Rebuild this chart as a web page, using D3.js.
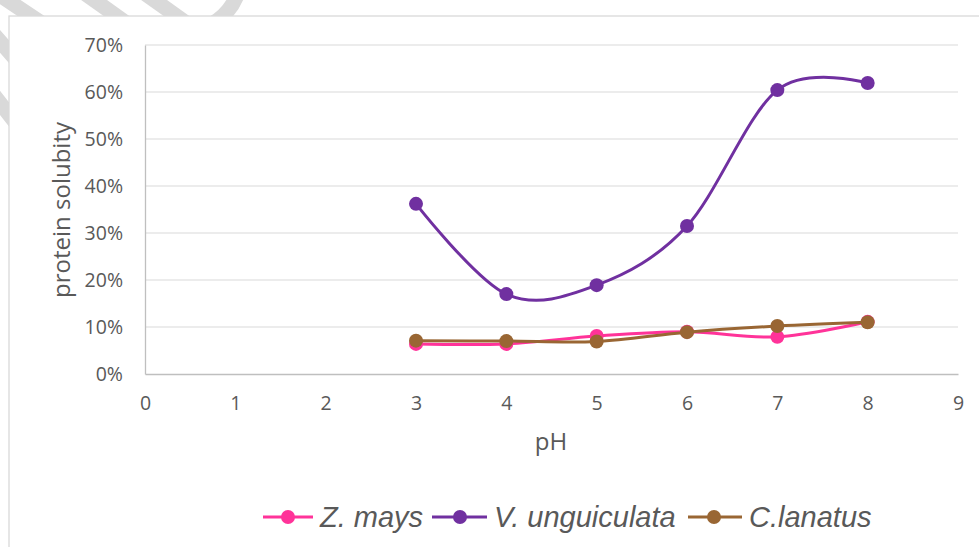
<!DOCTYPE html>
<html><head><meta charset="utf-8">
<script src="https://cdn.jsdelivr.net/npm/d3@7"></script>
<style>body{margin:0;background:#fff}svg{display:block}</style>
</head><body>
<svg id="c" width="979" height="547"></svg>
<script>
const phValues = [3, 4, 5, 6, 7, 8];
const zMays = [0.064, 0.064, 0.081, 0.090, 0.079, 0.111];
const vUnguiculata = [0.362, 0.170, 0.189, 0.315, 0.604, 0.619];
const cLanatus = [0.071, 0.070, 0.069, 0.089, 0.102, 0.110];
const seriesNames = ["Z. mays", "V. unguiculata", "C.lanatus"];
const seriesColors = ["#ff3399", "#7030a0", "#996633"];
const xTicks = [0,1,2,3,4,5,6,7,8,9];
const yTicks = [0,0.1,0.2,0.3,0.4,0.5,0.6,0.7];

const svg = d3.select("#c");
// watermark strokes
const wm = svg.append("g").attr("stroke","#d9d9d9").attr("stroke-width",15).attr("fill","none").attr("stroke-linecap","round");
[[[-5,-8],[40,22]],[[80,-10],[125,22]],[[140,-10],[185,22]],[[-10,30],[25,70]],[[-10,90],[25,135]]].forEach(l=>{
  wm.append("line").attr("x1",l[0][0]).attr("y1",l[0][1]).attr("x2",l[1][0]).attr("y2",l[1][1]);
});
wm.append("path").attr("d","M238,-8 Q232,12 212,24");
// chart area
svg.append("rect").attr("x",9).attr("y",16).attr("width",975).attr("height",540).attr("fill","#fff").attr("stroke","#d9d9d9").attr("stroke-width",1.3);

const x = d3.scaleLinear().domain([0,9]).range([145,958]);
const y = d3.scaleLinear().domain([0,0.7]).range([374,45]);

// gridlines
svg.append("g").selectAll("line").data(yTicks.slice(1)).join("line")
  .attr("x1",145).attr("x2",958).attr("y1",d=>y(d)).attr("y2",d=>y(d))
  .attr("stroke","#d9d9d9").attr("stroke-width",1.2);

const xa = svg.append("g").attr("transform","translate(0,374)")
  .call(d3.axisBottom(x).tickValues(xTicks).tickSize(0).tickPadding(22).tickFormat(d3.format("d")));
xa.select(".domain").attr("stroke","#bfbfbf").attr("stroke-width",1.3);
const ya = svg.append("g").attr("transform","translate(145,0)")
  .call(d3.axisLeft(y).tickValues(yTicks).tickSize(0).tickPadding(22).tickFormat(d3.format(".0%")));
ya.select(".domain").attr("stroke","#bfbfbf").attr("stroke-width",1.3);
svg.selectAll(".tick text").attr("font-family","Open Sans, sans-serif").attr("font-size",19.5).attr("fill","#595959");

svg.append("text").attr("x",551).attr("y",450).attr("text-anchor","middle")
  .attr("font-family","Open Sans, sans-serif").attr("font-size",24).attr("fill","#595959").text("pH");
svg.append("text").attr("transform","translate(70,210) rotate(-90)").attr("text-anchor","middle")
  .attr("font-family","Open Sans, sans-serif").attr("font-size",24).attr("fill","#595959").text("protein solubity");

const data = [zMays, vUnguiculata, cLanatus];
const line = d3.line().x((d,i)=>x(phValues[i])).y(d=>y(d)).curve(d3.curveCardinal.tension(0));
data.forEach((s,k)=>{
  const g = svg.append("g");
  g.append("path").attr("d",line(s)).attr("fill","none").attr("stroke",seriesColors[k]).attr("stroke-width",3);
  g.selectAll("circle").data(s).join("circle").attr("cx",(d,i)=>x(phValues[i])).attr("cy",d=>y(d)).attr("r",7).attr("fill",seriesColors[k]);
});

// legend
const legend = [{x1:263,x2:313,m:288,t:320},{x1:432,x2:487,m:460,t:494},{x1:688,x2:742,m:714,t:749}];
legend.forEach((L,k)=>{
  svg.append("line").attr("x1",L.x1).attr("x2",L.x2).attr("y1",517).attr("y2",517).attr("stroke",seriesColors[k]).attr("stroke-width",3);
  svg.append("circle").attr("cx",L.m).attr("cy",517).attr("r",7).attr("fill",seriesColors[k]);
  svg.append("text").attr("x",L.t).attr("y",527).attr("font-family","Liberation Sans, Arial, sans-serif").attr("font-style","italic")
    .attr("font-size",29).attr("fill","#595959").text(seriesNames[k]);
});
</script>
</body></html>
